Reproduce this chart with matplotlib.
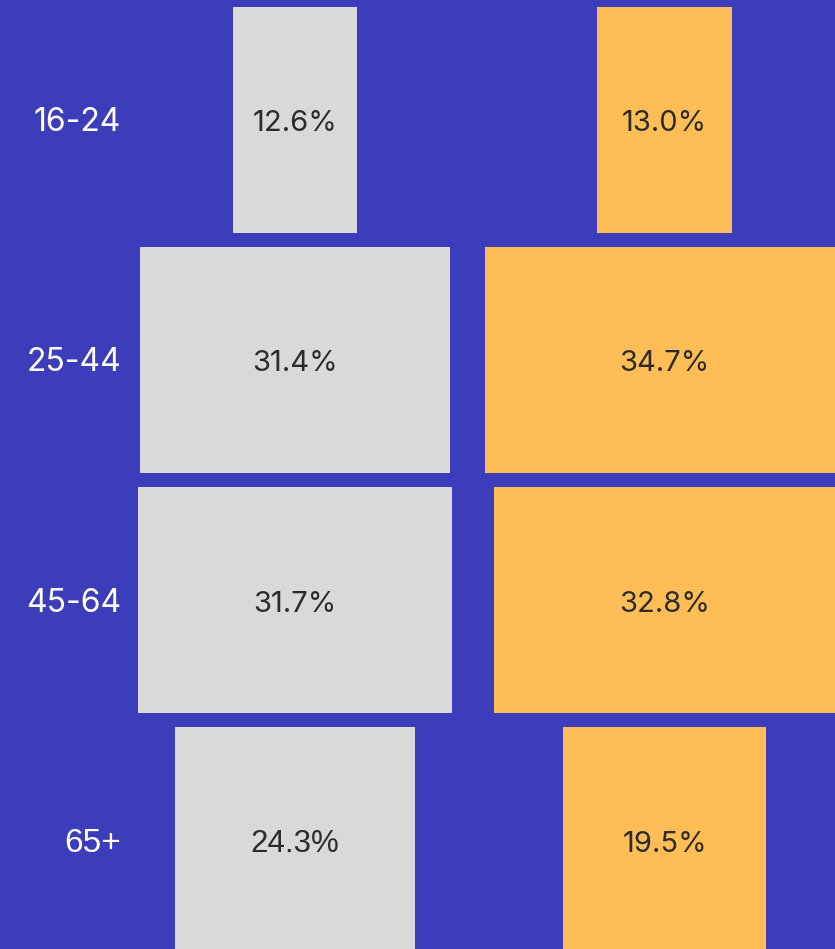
import matplotlib
matplotlib.use("Agg")
import matplotlib.pyplot as plt

categories = ["16-24", "25-44", "45-64", "65+"]
series_a = [12.6, 31.4, 31.7, 24.3]
series_b = [13.0, 34.7, 32.8, 19.5]

BG = "#3b3dba"
GRAY = "#d9d9d9"
ORANGE = "#ffbe55"
TXT = "#2b2b2b"
FONT = ["Inter", "DejaVu Sans"]
FONT_LAST = ["Liberation Sans", "DejaVu Sans"]

W, H = 835, 949
fig = plt.figure(figsize=(W / 100, H / 100), dpi=100)
fig.patch.set_facecolor(BG)

pitch = 240.0
bar_h = 226.0 / pitch
ylim = (H / pitch - 0.5, -0.5)
base_off = 11.5 / pitch

def make_axes(center_px, px_per_unit):
    ax = fig.add_axes([0, 0, 1, 1])
    ax.set_xlim(-center_px / px_per_unit, (W - center_px) / px_per_unit)
    ax.set_ylim(*ylim)
    ax.axis("off")
    ax.patch.set_alpha(0)
    return ax

ax_a = make_axes(295.0, 9.9)
ax_b = make_axes(664.5, 10.37)

ys = list(range(len(categories)))
ax_a.barh(ys, series_a, left=[-v / 2 for v in series_a], height=bar_h, color=GRAY)
ax_b.barh(ys, series_b, left=[-v / 2 for v in series_b], height=bar_h, color=ORANGE)

for ax, vals in ((ax_a, series_a), (ax_b, series_b)):
    for y, v in zip(ys, vals):
        last = (ax is ax_a and y == 3)
        ax.text(0, y + base_off, f"{v:.1f}%", ha="center", va="baseline", color=TXT,
                fontsize=22.5 if last else 21, family=FONT_LAST if last else FONT)

x_lab = (121 - 295.0) / 9.9
for y, c in zip(ys, categories):
    last = (y == 3)
    ax_a.text(x_lab, y + base_off, c, ha="right", va="baseline", color="white",
              fontsize=24 if last else 23, family=FONT_LAST if last else FONT)

fig.savefig("out.png", dpi=100, facecolor=BG)
